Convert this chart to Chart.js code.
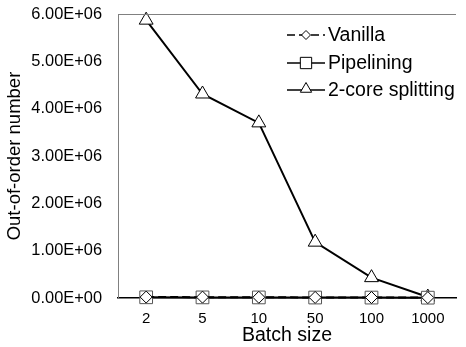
<!DOCTYPE html>
<html>
<head>
<meta charset="utf-8">
<script src="https://cdn.jsdelivr.net/npm/chart.js@4.4.0/dist/chart.umd.min.js"></script>
<style>
  html, body { margin: 0; padding: 0; background: #fff; }
  #wrap { width: 466px; height: 347px; }
</style>
</head>
<body>
<div id="wrap"><canvas id="myChart" width="466" height="347"></canvas></div>
<script>
const batchSizes = ["2", "5", "10", "50", "100", "1000"];
const vanilla = [20000, 18000, 15000, 12000, 10000, 8000];
const pipelining = [15000, 13000, 12000, 10000, 9000, 7000];
const twoCore = [5870000, 4310000, 3700000, 1180000, 430000, 20000];
const yTicks = [0, 1000000, 2000000, 3000000, 4000000, 5000000, 6000000];

const FONT = "'Liberation Sans', Arial, sans-serif";

// legend drawn as line + marker + text, like the original
const legendRadius = [4.5, 8, 6.5];
const lineLegend = {
  id: "lineLegend",
  afterDraw(chart) {
    const ctx = chart.ctx;
    const x0 = 287, x1 = 325, tx = 328;
    const rows = [35, 63, 90];
    ctx.save();
    chart.data.datasets.forEach((ds, i) => {
      const y = rows[i];
      ctx.strokeStyle = "#000";
      ctx.lineWidth = 1.5;
      ctx.setLineDash(ds.borderDash || []);
      ctx.beginPath();
      ctx.moveTo(x0, y);
      ctx.lineTo(x1, y);
      ctx.stroke();
      ctx.setLineDash([]);
      ctx.fillStyle = "#fff";
      ctx.lineWidth = 1;
      Chart.helpers.drawPoint(ctx, {
        pointStyle: ds.pointStyle,
        radius: legendRadius[i],
        rotation: 0,
        borderWidth: 1
      }, (x0 + x1) / 2, i === 2 ? y - 1 : y);
      ctx.fillStyle = "#000";
      ctx.font = "19.5px " + FONT;
      ctx.textBaseline = "middle";
      ctx.textAlign = "left";
      ctx.fillText(ds.label, tx, y + 1);
    });
    ctx.restore();
  }
};

// grey frame on top of plot area
const topFrame = {
  id: "topFrame",
  afterDraw(chart) {
    const { ctx, chartArea } = chart;
    ctx.save();
    ctx.strokeStyle = "#808080";
    ctx.lineWidth = 1;
    ctx.beginPath();
    ctx.moveTo(chartArea.left, chartArea.top + 0.5);
    ctx.lineTo(chartArea.right, chartArea.top + 0.5);
    ctx.stroke();
    ctx.restore();
  }
};

new Chart(document.getElementById("myChart"), {
  type: "line",
  data: {
    labels: batchSizes,
    datasets: [
      {
        label: "Vanilla",
        data: vanilla,
        borderColor: "#000",
        borderWidth: 2,
        borderDash: [8, 4],
        pointStyle: "rectRot",
        pointRadius: 6,
        pointBackgroundColor: "#fff",
        pointBorderColor: "#000",
        pointBorderWidth: 1,
        clip: false,
        fill: false
      },
      {
        label: "Pipelining",
        data: pipelining,
        borderColor: "#000",
        borderWidth: 2,
        pointStyle: "rect",
        pointRadius: 9,
        pointBackgroundColor: "#fff",
        pointBorderColor: "#555",
        pointBorderWidth: 1,
        clip: false,
        fill: false
      },
      {
        label: "2-core splitting",
        data: twoCore,
        borderColor: "#000",
        borderWidth: 2,
        pointStyle: "triangle",
        pointRadius: 8,
        pointBackgroundColor: "#fff",
        pointBorderColor: "#000",
        pointBorderWidth: 1,
        clip: false,
        fill: false
      }
    ]
  },
  options: {
    responsive: false,
    animation: false,
    devicePixelRatio: 1,
    layout: { padding: { top: 14, right: 0, left: 0, bottom: 0 } },
    plugins: {
      legend: { display: false },
      tooltip: { enabled: false }
    },
    scales: {
      x: {
        type: "category",
        offset: true,
        grid: { display: false, drawTicks: false },
        border: { color: "#000", width: 1.5 },
        ticks: { color: "#000", font: { family: FONT, size: 15 }, padding: 12 },
        title: {
          display: true,
          text: "Batch size",
          color: "#000",
          font: { family: FONT, size: 19.5 },
          padding: { top: 0, bottom: 0 }
        },
        afterFit(scale) { scale.height = 49; }
      },
      y: {
        min: 0,
        max: 6000000,
        afterBuildTicks(scale) { scale.ticks = yTicks.map(v => ({ value: v })); },
        grid: { display: false, drawTicks: false },
        border: { color: "#808080", width: 1 },
        ticks: {
          color: "#000",
          font: { family: FONT, size: 16.4 },
          padding: 16,
          callback: v => {
            const s = Number(v).toExponential(2).toUpperCase();
            return s.replace(/E([+-])(\d)$/, "E$10$2");
          }
        },
        title: {
          display: true,
          text: "Out-of-order number",
          color: "#000",
          font: { family: FONT, size: 18.5 },
          padding: { bottom: 2 }
        },
        afterFit(scale) {
          scale.width = 118;
          scale.paddingTop = 0;
          scale.paddingBottom = 0;
        }
      }
    }
  },
  plugins: [lineLegend, topFrame]
});
</script>
</body>
</html>
